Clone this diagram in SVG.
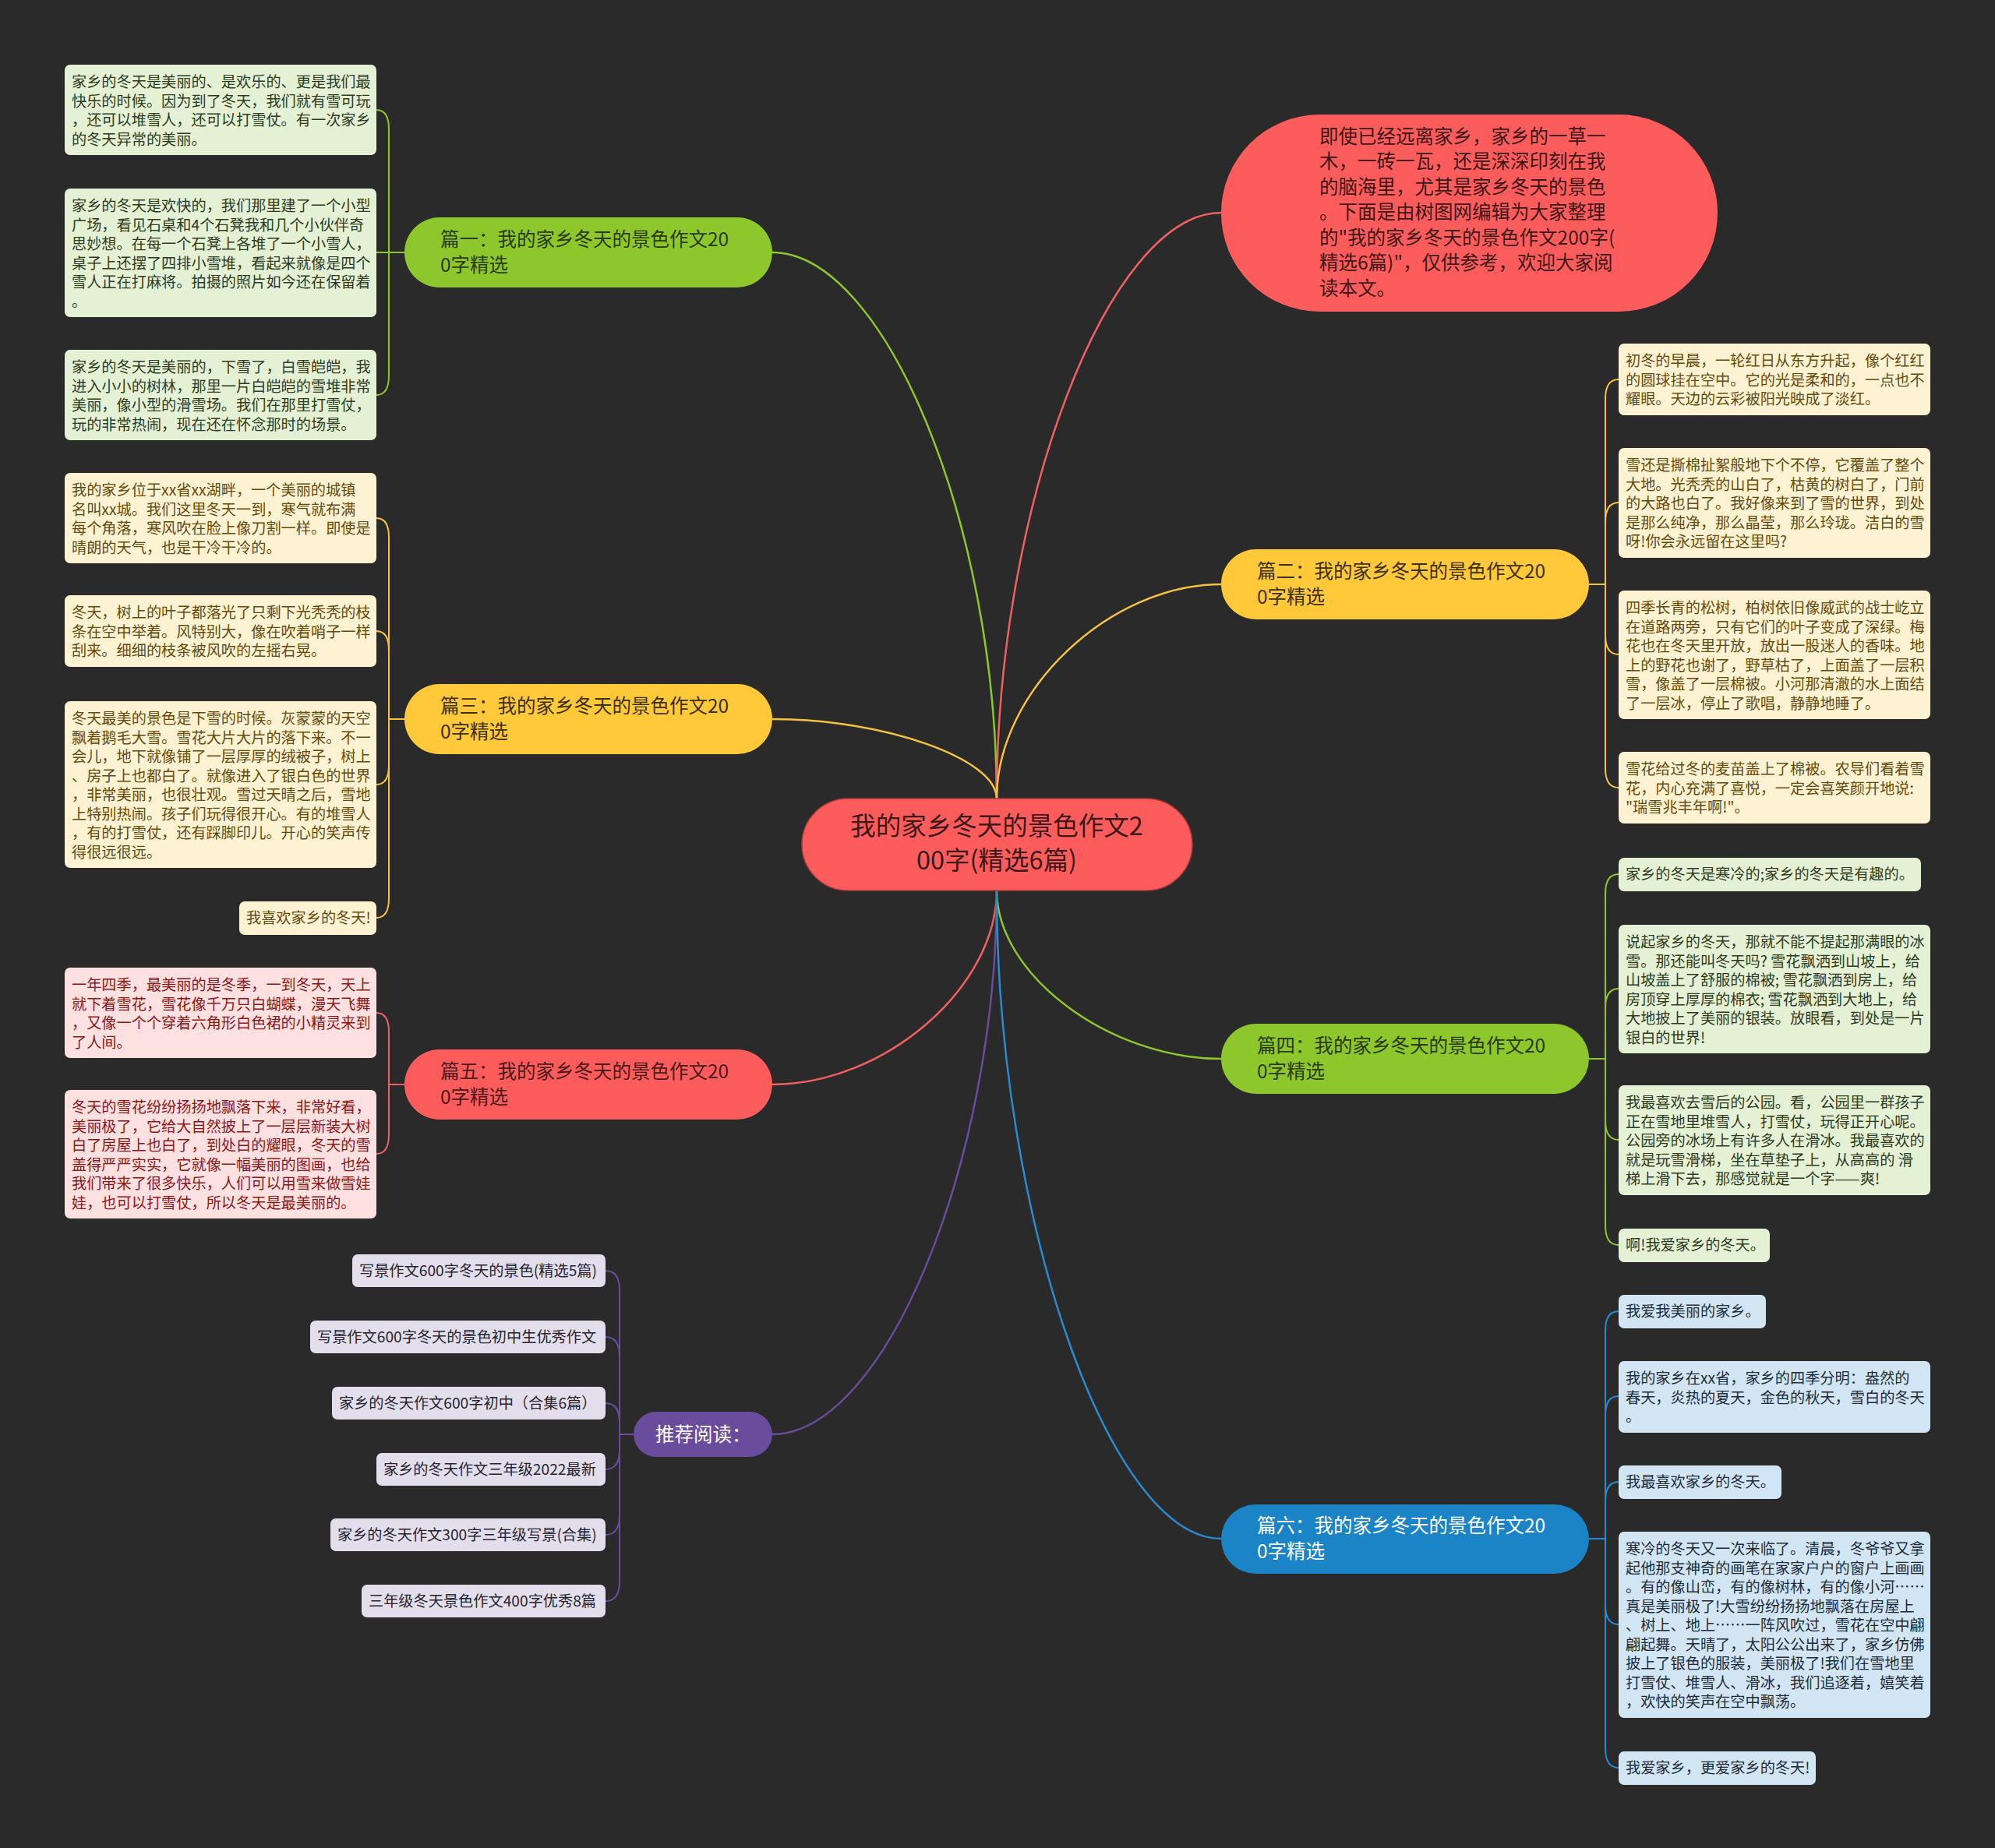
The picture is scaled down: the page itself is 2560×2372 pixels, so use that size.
<svg xmlns="http://www.w3.org/2000/svg" width="2560" height="2372" viewBox="0 0 2560 2372">
<style>
text{font-family:"Noto Sans CJK SC","Liberation Sans",sans-serif;}
.lt{font-size:19.2px;}
.mt{font-size:24.5px;}
.rt{font-size:32.5px;}
.c{fill:none;stroke-width:2.5;}
.lc{fill:none;stroke-width:2;}
.sg{stroke:#8dc72b;} .sy{stroke:#f5c242;} .sr{stroke:#f06060;} .sb{stroke:#2a8ad0;} .sp{stroke:#6a4c9c;}
.fg{fill:#e5f1d4;} .fy{fill:#fdf3d2;} .fr{fill:#fde0e0;} .fb{fill:#d2e5f3;} .fp{fill:#e2deec;}
.tg{fill:#2e3b1e;} .ty{fill:#654a0e;} .tr{fill:#8a1818;} .tb{fill:#1e2c3a;} .tp{fill:#26242e;}
</style>
<rect x="0" y="0" width="2560" height="2372" fill="#2a2a2a"/>

<g id="connectors">
<path class="c sg" d="M1279 1025 C1279 674.5 1135 324 991 324"/>
<path class="c sr" d="M1279 1025 C1279 649 1423 273 1567 273"/>
<path class="c sy" d="M1279 1025 C1279 887.5 1423 750 1567 750"/>
<path class="c sy" d="M1279 1025 C1279 974 1135 923 991 923"/>
<path class="c sg" d="M1279 1143 C1279 1251 1423 1359 1567 1359"/>
<path class="c sr" d="M1279 1143 C1279 1267.5 1135 1392 991 1392"/>
<path class="c sp" d="M1279 1143 C1279 1492 1135 1841 991 1841"/>
<path class="c sb" d="M1279 1143 C1279 1559 1423 1975 1567 1975"/>

<path class="lc sg" d="M519 324 H499 V166 Q499 141 483 141"/>
<path class="lc sg" d="M519 324 H483"/>
<path class="lc sg" d="M519 324 H499 V482 Q499 507 483 507"/>

<path class="lc sy" d="M519 923 H499 V690 Q499 665 483 665"/>
<path class="lc sy" d="M519 923 H499 V835 Q499 810 483 810"/>
<path class="lc sy" d="M519 923 H499 V982 Q499 1007 483 1007"/>
<path class="lc sy" d="M519 923 H499 V1153 Q499 1178 483 1178"/>

<path class="lc sr" d="M519 1392 H499 V1325 Q499 1300 483 1300"/>
<path class="lc sr" d="M519 1392 H499 V1456 Q499 1481 483 1481"/>

<path class="lc sp" d="M813 1841 H795 V1656 Q795 1631 777 1631"/>
<path class="lc sp" d="M813 1841 H795 V1741 Q795 1716 777 1716"/>
<path class="lc sp" d="M813 1841 H795 V1826 Q795 1801 777 1801"/>
<path class="lc sp" d="M813 1841 H795 V1861 Q795 1886 777 1886"/>
<path class="lc sp" d="M813 1841 H795 V1945 Q795 1970 777 1970"/>
<path class="lc sp" d="M813 1841 H795 V2030 Q795 2055 777 2055"/>

<path class="lc sy" d="M2039 750 H2060 V512 Q2060 487 2077 487"/>
<path class="lc sy" d="M2039 750 H2060 V670 Q2060 645 2077 645"/>
<path class="lc sy" d="M2039 750 H2060 V815 Q2060 840 2077 840"/>
<path class="lc sy" d="M2039 750 H2060 V986 Q2060 1011 2077 1011"/>

<path class="lc sg" d="M2039 1359 H2060 V1147 Q2060 1122 2077 1122"/>
<path class="lc sg" d="M2039 1359 H2060 V1294 Q2060 1269 2077 1269"/>
<path class="lc sg" d="M2039 1359 H2060 V1438 Q2060 1463 2077 1463"/>
<path class="lc sg" d="M2039 1359 H2060 V1573 Q2060 1598 2077 1598"/>

<path class="lc sb" d="M2039 1975 H2060 V1708 Q2060 1683 2077 1683"/>
<path class="lc sb" d="M2039 1975 H2060 V1817 Q2060 1792 2077 1792"/>
<path class="lc sb" d="M2039 1975 H2060 V1927 Q2060 1902 2077 1902"/>
<path class="lc sb" d="M2039 1975 H2060 V2060 Q2060 2085 2077 2085"/>
<path class="lc sb" d="M2039 1975 H2060 V2244 Q2060 2269 2077 2269"/>
</g>

<g id="root">
<rect x="1029" y="1025" width="501" height="118" rx="59" fill="#fd5c5c" stroke="#a83a3a" stroke-width="1.5"/>
<text class="rt" fill="#3c1818" text-anchor="middle" x="1279" y="1072">我的家乡冬天的景色作文2</text>
<text class="rt" fill="#3c1818" text-anchor="middle" x="1279" y="1116">00字(精选6篇)</text>
</g>

<g id="intro">
<rect x="1567" y="147" width="637" height="253" rx="126.5" fill="#fd5c5c"/>
<text class="mt" fill="#3c1818" x="1693" y="183.5"><tspan x="1693">即使已经远离家乡，家乡的一草一</tspan><tspan x="1693" dy="32.5">木，一砖一瓦，还是深深印刻在我</tspan><tspan x="1693" dy="32.5">的脑海里，尤其是家乡冬天的景色</tspan><tspan x="1693" dy="32.5">。下面是由树图网编辑为大家整理</tspan><tspan x="1693" dy="32.5">的"我的家乡冬天的景色作文200字(</tspan><tspan x="1693" dy="32.5">精选6篇)"，仅供参考，欢迎大家阅</tspan><tspan x="1693" dy="32.5">读本文。</tspan></text>
</g>

<g id="n1">
<rect x="519" y="279" width="472" height="90" rx="45" fill="#8dc72b"/>
<text class="mt" fill="#2a3a12" x="565" y="316"><tspan x="565">篇一：我的家乡冬天的景色作文20</tspan><tspan x="565" dy="33">0字精选</tspan></text>
</g>
<g id="n2">
<rect x="1567" y="705" width="472" height="90" rx="45" fill="#ffc93a"/>
<text class="mt" fill="#3d3010" x="1613" y="742"><tspan x="1613">篇二：我的家乡冬天的景色作文20</tspan><tspan x="1613" dy="33">0字精选</tspan></text>
</g>
<g id="n3">
<rect x="519" y="878" width="472" height="90" rx="45" fill="#ffc93a"/>
<text class="mt" fill="#3d3010" x="565" y="915"><tspan x="565">篇三：我的家乡冬天的景色作文20</tspan><tspan x="565" dy="33">0字精选</tspan></text>
</g>
<g id="n4">
<rect x="1567" y="1314" width="472" height="90" rx="45" fill="#8dc72b"/>
<text class="mt" fill="#2a3a12" x="1613" y="1351"><tspan x="1613">篇四：我的家乡冬天的景色作文20</tspan><tspan x="1613" dy="33">0字精选</tspan></text>
</g>
<g id="n5">
<rect x="519" y="1347" width="472" height="90" rx="45" fill="#fd5c5c"/>
<text class="mt" fill="#4a1a1a" x="565" y="1384"><tspan x="565">篇五：我的家乡冬天的景色作文20</tspan><tspan x="565" dy="33">0字精选</tspan></text>
</g>
<g id="n6">
<rect x="1567" y="1931" width="472" height="89" rx="44.5" fill="#1a84c7"/>
<text class="mt" fill="#ffffff" x="1613" y="1967"><tspan x="1613">篇六：我的家乡冬天的景色作文20</tspan><tspan x="1613" dy="33">0字精选</tspan></text>
</g>
<g id="n7">
<rect x="813" y="1812" width="178" height="58" rx="29" fill="#6a4c9c"/>
<text class="mt" fill="#ffffff" x="841" y="1850">推荐阅读：</text>
</g>

<g id="leaf-1a">
<rect class="fg" x="83" y="83" width="400" height="116" rx="7"/>
<text class="lt tg" x="92" y="112"><tspan x="92">家乡的冬天是美丽的、是欢乐的、更是我们最</tspan><tspan x="92" dy="24.5">快乐的时候。因为到了冬天，我们就有雪可玩</tspan><tspan x="92" dy="24.5">，还可以堆雪人，还可以打雪仗。有一次家乡</tspan><tspan x="92" dy="24.5">的冬天异常的美丽。</tspan></text>
</g>
<g id="leaf-1b">
<rect class="fg" x="83" y="242" width="400" height="165" rx="7"/>
<text class="lt tg" x="92" y="271"><tspan x="92">家乡的冬天是欢快的，我们那里建了一个小型</tspan><tspan x="92" dy="24.5">广场，看见石桌和4个石凳我和几个小伙伴奇</tspan><tspan x="92" dy="24.5">思妙想。在每一个石凳上各堆了一个小雪人，</tspan><tspan x="92" dy="24.5">桌子上还摆了四排小雪堆，看起来就像是四个</tspan><tspan x="92" dy="24.5">雪人正在打麻将。拍摄的照片如今还在保留着</tspan><tspan x="92" dy="24.5">。</tspan></text>
</g>
<g id="leaf-1c">
<rect class="fg" x="83" y="449" width="400" height="116" rx="7"/>
<text class="lt tg" x="92" y="478"><tspan x="92">家乡的冬天是美丽的，下雪了，白雪皑皑，我</tspan><tspan x="92" dy="24.5">进入小小的树林，那里一片白皑皑的雪堆非常</tspan><tspan x="92" dy="24.5">美丽，像小型的滑雪场。我们在那里打雪仗，</tspan><tspan x="92" dy="24.5">玩的非常热闹，现在还在怀念那时的场景。</tspan></text>
</g>

<g id="leaf-3a">
<rect class="fy" x="83" y="607" width="400" height="116" rx="7"/>
<text class="lt ty" x="92" y="636"><tspan x="92">我的家乡位于xx省xx湖畔，一个美丽的城镇</tspan><tspan x="92" dy="24.5">名叫xx城。我们这里冬天一到，寒气就布满</tspan><tspan x="92" dy="24.5">每个角落，寒风吹在脸上像刀割一样。即使是</tspan><tspan x="92" dy="24.5">晴朗的天气，也是干冷干冷的。</tspan></text>
</g>
<g id="leaf-3b">
<rect class="fy" x="83" y="764" width="400" height="92" rx="7"/>
<text class="lt ty" x="92" y="793"><tspan x="92">冬天，树上的叶子都落光了只剩下光秃秃的枝</tspan><tspan x="92" dy="24.5">条在空中举着。风特别大，像在吹着哨子一样</tspan><tspan x="92" dy="24.5">刮来。细细的枝条被风吹的左摇右晃。</tspan></text>
</g>
<g id="leaf-3c">
<rect class="fy" x="83" y="900" width="400" height="214" rx="7"/>
<text class="lt ty" x="92" y="929"><tspan x="92">冬天最美的景色是下雪的时候。灰蒙蒙的天空</tspan><tspan x="92" dy="24.5">飘着鹅毛大雪。雪花大片大片的落下来。不一</tspan><tspan x="92" dy="24.5">会儿，地下就像铺了一层厚厚的绒被子，树上</tspan><tspan x="92" dy="24.5">、房子上也都白了。就像进入了银白色的世界</tspan><tspan x="92" dy="24.5">，非常美丽，也很壮观。雪过天晴之后，雪地</tspan><tspan x="92" dy="24.5">上特别热闹。孩子们玩得很开心。有的堆雪人</tspan><tspan x="92" dy="24.5">，有的打雪仗，还有踩脚印儿。开心的笑声传</tspan><tspan x="92" dy="24.5">得很远很远。</tspan></text>
</g>
<g id="leaf-3d">
<rect class="fy" x="307" y="1157" width="176" height="43" rx="7"/>
<text class="lt ty" x="316" y="1185">我喜欢家乡的冬天!</text>
</g>

<g id="leaf-5a">
<rect class="fr" x="83" y="1242" width="400" height="116" rx="7"/>
<text class="lt tr" x="92" y="1271"><tspan x="92">一年四季，最美丽的是冬季，一到冬天，天上</tspan><tspan x="92" dy="24.5">就下着雪花，雪花像千万只白蝴蝶，漫天飞舞</tspan><tspan x="92" dy="24.5">，又像一个个穿着六角形白色裙的小精灵来到</tspan><tspan x="92" dy="24.5">了人间。</tspan></text>
</g>
<g id="leaf-5b">
<rect class="fr" x="83" y="1399" width="400" height="165" rx="7"/>
<text class="lt tr" x="92" y="1428"><tspan x="92">冬天的雪花纷纷扬扬地飘落下来，非常好看，</tspan><tspan x="92" dy="24.5">美丽极了，它给大自然披上了一层层新装大树</tspan><tspan x="92" dy="24.5">白了房屋上也白了，到处白的耀眼，冬天的雪</tspan><tspan x="92" dy="24.5">盖得严严实实，它就像一幅美丽的图画，也给</tspan><tspan x="92" dy="24.5">我们带来了很多快乐，人们可以用雪来做雪娃</tspan><tspan x="92" dy="24.5">娃，也可以打雪仗，所以冬天是最美丽的。</tspan></text>
</g>

<g id="rec-1">
<rect class="fp" x="452" y="1610" width="325" height="42" rx="7"/>
<text class="lt tp" x="461" y="1638">写景作文600字冬天的景色(精选5篇)</text>
</g>
<g id="rec-2">
<rect class="fp" x="398" y="1695" width="379" height="42" rx="7"/>
<text class="lt tp" x="407" y="1723">写景作文600字冬天的景色初中生优秀作文</text>
</g>
<g id="rec-3">
<rect class="fp" x="426" y="1780" width="351" height="42" rx="7"/>
<text class="lt tp" x="435" y="1808">家乡的冬天作文600字初中（合集6篇）</text>
</g>
<g id="rec-4">
<rect class="fp" x="483" y="1865" width="294" height="42" rx="7"/>
<text class="lt tp" x="492" y="1893">家乡的冬天作文三年级2022最新</text>
</g>
<g id="rec-5">
<rect class="fp" x="424" y="1949" width="353" height="42" rx="7"/>
<text class="lt tp" x="433" y="1977">家乡的冬天作文300字三年级写景(合集)</text>
</g>
<g id="rec-6">
<rect class="fp" x="464" y="2034" width="313" height="42" rx="7"/>
<text class="lt tp" x="473" y="2062">三年级冬天景色作文400字优秀8篇</text>
</g>

<g id="leaf-2a">
<rect class="fy" x="2077" y="441" width="400" height="92" rx="7"/>
<text class="lt ty" x="2086" y="470"><tspan x="2086">初冬的早晨，一轮红日从东方升起，像个红红</tspan><tspan x="2086" dy="24.5">的圆球挂在空中。它的光是柔和的，一点也不</tspan><tspan x="2086" dy="24.5">耀眼。天边的云彩被阳光映成了淡红。</tspan></text>
</g>
<g id="leaf-2b">
<rect class="fy" x="2077" y="575" width="400" height="141" rx="7"/>
<text class="lt ty" x="2086" y="604"><tspan x="2086">雪还是撕棉扯絮般地下个不停，它覆盖了整个</tspan><tspan x="2086" dy="24.5">大地。光秃秃的山白了，枯黄的树白了，门前</tspan><tspan x="2086" dy="24.5">的大路也白了。我好像来到了雪的世界，到处</tspan><tspan x="2086" dy="24.5">是那么纯净，那么晶莹，那么玲珑。洁白的雪</tspan><tspan x="2086" dy="24.5">呀!你会永远留在这里吗?</tspan></text>
</g>
<g id="leaf-2c">
<rect class="fy" x="2077" y="758" width="400" height="165" rx="7"/>
<text class="lt ty" x="2086" y="787"><tspan x="2086">四季长青的松树，柏树依旧像威武的战士屹立</tspan><tspan x="2086" dy="24.5">在道路两旁，只有它们的叶子变成了深绿。梅</tspan><tspan x="2086" dy="24.5">花也在冬天里开放，放出一股迷人的香味。地</tspan><tspan x="2086" dy="24.5">上的野花也谢了，野草枯了，上面盖了一层积</tspan><tspan x="2086" dy="24.5">雪，像盖了一层棉被。小河那清澈的水上面结</tspan><tspan x="2086" dy="24.5">了一层冰，停止了歌唱，静静地睡了。</tspan></text>
</g>
<g id="leaf-2d">
<rect class="fy" x="2077" y="965" width="400" height="92" rx="7"/>
<text class="lt ty" x="2086" y="994"><tspan x="2086">雪花给过冬的麦苗盖上了棉被。农导们看着雪</tspan><tspan x="2086" dy="24.5">花，内心充满了喜悦，一定会喜笑颜开地说:</tspan><tspan x="2086" dy="24.5">"瑞雪兆丰年啊!"。</tspan></text>
</g>

<g id="leaf-4a">
<rect class="fg" x="2077" y="1101" width="388" height="43" rx="7"/>
<text class="lt tg" x="2086" y="1129">家乡的冬天是寒冷的;家乡的冬天是有趣的。</text>
</g>
<g id="leaf-4b">
<rect class="fg" x="2077" y="1187" width="400" height="165" rx="7"/>
<text class="lt tg" x="2086" y="1216"><tspan x="2086">说起家乡的冬天，那就不能不提起那满眼的冰</tspan><tspan x="2086" dy="24.5">雪。那还能叫冬天吗? 雪花飘洒到山坡上，给</tspan><tspan x="2086" dy="24.5">山坡盖上了舒服的棉被; 雪花飘洒到房上，给</tspan><tspan x="2086" dy="24.5">房顶穿上厚厚的棉衣; 雪花飘洒到大地上，给</tspan><tspan x="2086" dy="24.5">大地披上了美丽的银装。放眼看，到处是一片</tspan><tspan x="2086" dy="24.5">银白的世界!</tspan></text>
</g>
<g id="leaf-4c">
<rect class="fg" x="2077" y="1393" width="400" height="141" rx="7"/>
<text class="lt tg" x="2086" y="1422"><tspan x="2086">我最喜欢去雪后的公园。看，公园里一群孩子</tspan><tspan x="2086" dy="24.5">正在雪地里堆雪人，打雪仗，玩得正开心呢。</tspan><tspan x="2086" dy="24.5">公园旁的冰场上有许多人在滑冰。我最喜欢的</tspan><tspan x="2086" dy="24.5">就是玩雪滑梯，坐在草垫子上，从高高的 滑</tspan><tspan x="2086" dy="24.5">梯上滑下去，那感觉就是一个字——爽!</tspan></text>
</g>
<g id="leaf-4d">
<rect class="fg" x="2077" y="1577" width="194" height="43" rx="7"/>
<text class="lt tg" x="2086" y="1605">啊!我爱家乡的冬天。</text>
</g>

<g id="leaf-6a">
<rect class="fb" x="2077" y="1662" width="189" height="43" rx="7"/>
<text class="lt tb" x="2086" y="1690">我爱我美丽的家乡。</text>
</g>
<g id="leaf-6b">
<rect class="fb" x="2077" y="1747" width="400" height="92" rx="7"/>
<text class="lt tb" x="2086" y="1776"><tspan x="2086">我的家乡在xx省，家乡的四季分明：盎然的</tspan><tspan x="2086" dy="24.5">春天，炎热的夏天，金色的秋天，雪白的冬天</tspan><tspan x="2086" dy="24.5">。</tspan></text>
</g>
<g id="leaf-6c">
<rect class="fb" x="2077" y="1881" width="209" height="43" rx="7"/>
<text class="lt tb" x="2086" y="1909">我最喜欢家乡的冬天。</text>
</g>
<g id="leaf-6d">
<rect class="fb" x="2077" y="1966" width="400" height="239" rx="7"/>
<text class="lt tb" x="2086" y="1995"><tspan x="2086">寒冷的冬天又一次来临了。清晨，冬爷爷又拿</tspan><tspan x="2086" dy="24.5">起他那支神奇的画笔在家家户户的窗户上画画</tspan><tspan x="2086" dy="24.5">。有的像山峦，有的像树林，有的像小河……</tspan><tspan x="2086" dy="24.5">真是美丽极了!大雪纷纷扬扬地飘落在房屋上</tspan><tspan x="2086" dy="24.5">、树上、地上……一阵风吹过，雪花在空中翩</tspan><tspan x="2086" dy="24.5">翩起舞。天晴了，太阳公公出来了，家乡仿佛</tspan><tspan x="2086" dy="24.5">披上了银色的服装，美丽极了!我们在雪地里</tspan><tspan x="2086" dy="24.5">打雪仗、堆雪人、滑冰，我们追逐着，嬉笑着</tspan><tspan x="2086" dy="24.5">，欢快的笑声在空中飘荡。</tspan></text>
</g>
<g id="leaf-6e">
<rect class="fb" x="2077" y="2248" width="253" height="43" rx="7"/>
<text class="lt tb" x="2086" y="2276">我爱家乡，更爱家乡的冬天!</text>
</g>
</svg>
